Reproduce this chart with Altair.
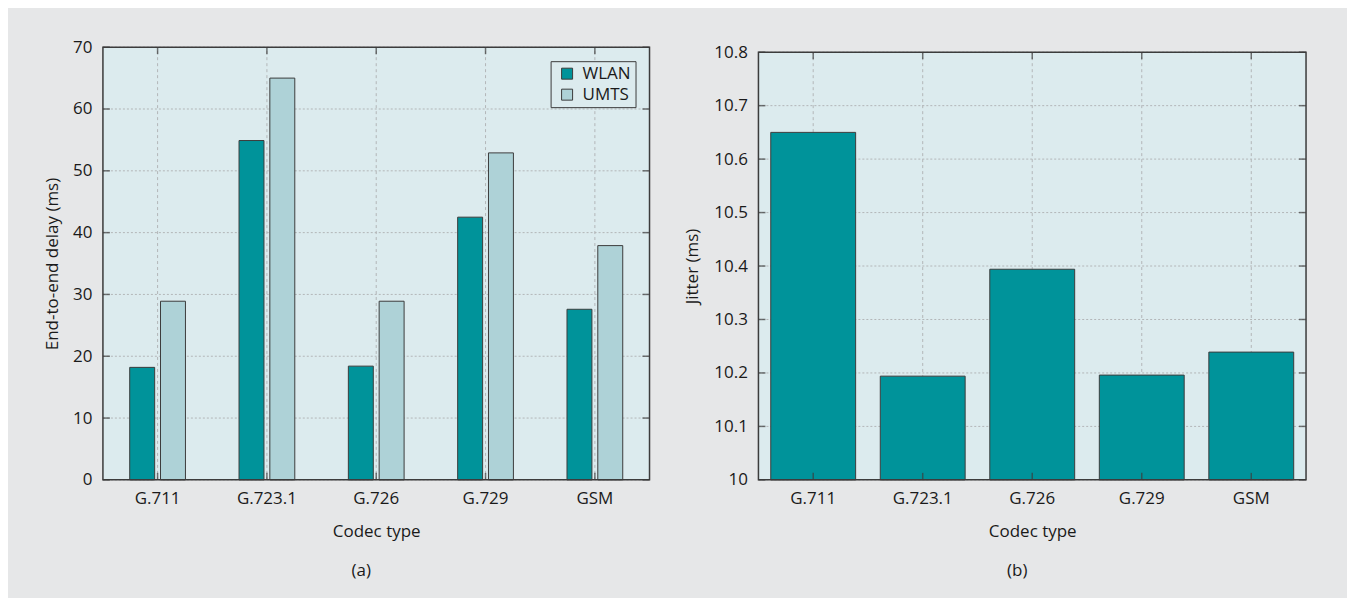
import altair as alt
import pandas as pd

codecs = ["G.711", "G.723.1", "G.726", "G.729", "GSM"]
series = ["WLAN", "UMTS"]
wlan_delay = [18.2, 54.9, 18.4, 42.5, 27.6]
umts_delay = [28.9, 65.0, 28.9, 52.9, 37.9]
jitter = [10.650, 10.194, 10.394, 10.196, 10.239]
delay_ticks = [0, 10, 20, 30, 40, 50, 60, 70]
jitter_ticks = [10.0, 10.1, 10.2, 10.3, 10.4, 10.5, 10.6, 10.7, 10.8]

TEAL = "#00939a"
LIGHT = "#aed2d7"
PLOT_BG = "#dcebee"
FIG_BG = "#e6e7e8"
FRAME = "#3c3c3c"
GRID = "#b3b6b8"
TEXT = "#1a1a1a"
FONT = "Open Sans"

W = 547
H = 433

delay_df = pd.DataFrame({
    "codec": codecs * 2,
    "series": [series[0]] * len(codecs) + [series[1]] * len(codecs),
    "value": wlan_delay + umts_delay,
})
jitter_df = pd.DataFrame({"codec": codecs, "value": jitter})
codec_df = pd.DataFrame({"codec": codecs})
one = pd.DataFrame({"k": [0]})


def panel(make_bars, x_scale, y_scale, ymin, ymax, ticks, width, top_px, ytitle, tpad, sub):
    xax = alt.Axis(labelAngle=0, domain=False, ticks=False, grid=False,
                   labelPadding=11, titlePadding=17)
    yax = alt.Axis(values=ticks, domain=False, ticks=False, grid=False,
                   labelPadding=11, titlePadding=tpad, format="~r")
    XT = "Codec type"

    def X(field="codec:N"):
        return alt.X(field, scale=x_scale, axis=xax, title=XT)

    def Y(field=None, datum=None):
        if field is not None:
            return alt.Y(field, scale=y_scale, axis=yax, title=ytitle)
        return alt.Y(datum=datum, scale=y_scale, axis=yax, title=ytitle)

    bg = alt.Chart(one).mark_rect(fill=PLOT_BG).encode(
        x=alt.value(0), x2=alt.value(width),
        y=Y(datum=ymin), y2=alt.Y2(datum=ymax),
    )
    tick_df = pd.DataFrame({"v": ticks})
    hgrid = alt.Chart(tick_df).mark_rule(color=GRID, strokeDash=[2, 2], strokeWidth=1).encode(
        y=Y("v:Q"), x=alt.value(0), x2=alt.value(width),
    )
    vgrid = alt.Chart(codec_df).mark_rule(color=GRID, strokeDash=[3, 3], strokeWidth=1).encode(
        x=X(), y=Y(datum=ymin), y2=alt.Y2(datum=ymax),
    )
    bars = make_bars(X, Y)
    frame = alt.Chart(one).mark_rect(fillOpacity=0, stroke=FRAME, strokeWidth=1.5).encode(
        x=alt.value(0), x2=alt.value(width),
        y=Y(datum=ymin), y2=alt.Y2(datum=ymax),
    )
    lt = alt.Chart(tick_df).mark_tick(orient="horizontal", size=7, thickness=1.5, color=FRAME).encode(
        y=Y("v:Q"), x=alt.value(3.5))
    rt = alt.Chart(tick_df).mark_tick(orient="horizontal", size=7, thickness=1.5, color=FRAME).encode(
        y=Y("v:Q"), x=alt.value(width - 3.5))
    bt = alt.Chart(codec_df).mark_tick(orient="vertical", size=7, thickness=1.5, color=FRAME).encode(
        x=X(), y=alt.value(H - 3.5))
    tt = alt.Chart(codec_df).mark_tick(orient="vertical", size=7, thickness=1.5, color=FRAME).encode(
        x=X(), y=alt.value(top_px + 3.5))
    return alt.layer(bg, hgrid, vgrid, *bars, frame, lt, rt, bt, tt).properties(
        width=width, height=H,
        title=alt.TitleParams(sub, orient="bottom", offset=23, dx=-15, frame="group",
                              fontSize=17, fontWeight="normal", font=FONT, color=TEXT),
    )


# ---- panel (a)
xa = alt.Scale(domain=codecs, paddingInner=0.49, paddingOuter=0.245)
ya = alt.Scale(domain=[0, 70], nice=False, zero=True)


def bars_a(X, Y):
    bars = alt.Chart(delay_df).mark_bar(stroke=FRAME, strokeWidth=1).encode(
        x=X(),
        xOffset=alt.XOffset("series:N", scale=alt.Scale(domain=series, paddingInner=0.19, paddingOuter=0)),
        y=Y("value:Q"),
        y2=alt.Y2(datum=0),
        fill=alt.Fill("series:N", scale=alt.Scale(domain=series, range=[TEAL, LIGHT]),
                      legend=alt.Legend(title=None, orient="none", legendX=448, legendY=14,
                                        symbolType="square", symbolSize=121,
                                        symbolStrokeColor=FRAME, symbolStrokeWidth=1,
                                        symbolOffset=4,
                                        labelFontSize=17, labelFont=FONT, labelColor=TEXT,
                                        labelOffset=7, rowPadding=3, padding=4, zindex=2,
                                        strokeColor=FRAME, fillColor=PLOT_BG)),
    )
    return [bars]


left = panel(bars_a, xa, ya, 0, 70, delay_ticks, W, 0,
             "End-to-end delay (ms)", 11, "(a)")

# ---- panel (b)
W2 = 548
xb = alt.Scale(domain=codecs, paddingInner=0.225, paddingOuter=0.1125)
yb = alt.Scale(domain=[10, 10.8], nice=False, zero=False, range=[H, 5])


def bars_b(X, Y):
    return [alt.Chart(jitter_df).mark_bar(fill=TEAL, stroke=FRAME, strokeWidth=1).encode(
        x=X(), y=Y("value:Q"), y2=alt.Y2(datum=10),
    )]


right = panel(bars_b, xb, yb, 10, 10.8, jitter_ticks, W2, 5,
              "Jitter (ms)", 12, "(b)")

chart = alt.hconcat(left, right, spacing=33).properties(
    padding={"left": 35, "top": 30, "right": 40, "bottom": 19},
    background=FIG_BG,
).configure_view(stroke=None).configure_axis(
    labelFont=FONT, titleFont=FONT, labelFontSize=17, titleFontSize=17,
    labelColor=TEXT, titleColor=TEXT, titleFontWeight="normal",
)

chart.save("out.html", embed_options={"renderer": "svg", "actions": False})
